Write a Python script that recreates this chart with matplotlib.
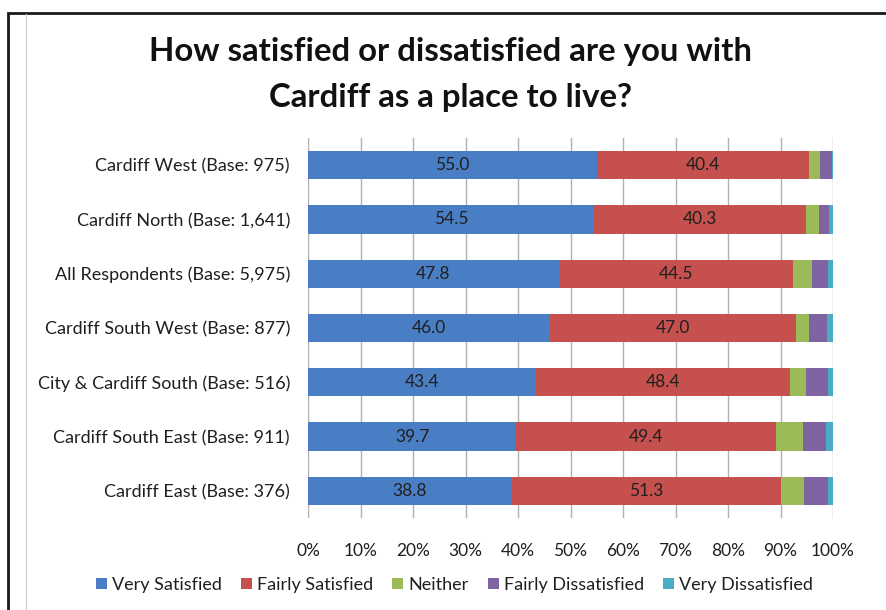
import matplotlib
matplotlib.use("Agg")
import matplotlib.pyplot as plt
from matplotlib.patches import Rectangle
from matplotlib.lines import Line2D

plt.rcParams['font.family'] = ['Lato', 'DejaVu Sans']

categories = [
    "Cardiff West (Base: 975)",
    "Cardiff North (Base: 1,641)",
    "All Respondents (Base: 5,975)",
    "Cardiff South West (Base: 877)",
    "City & Cardiff South (Base: 516)",
    "Cardiff South East (Base: 911)",
    "Cardiff East (Base: 376)",
]
series_names = ["Very Satisfied", "Fairly Satisfied", "Neither",
                "Fairly Dissatisfied", "Very Dissatisfied"]
very_satisfied = [55.0, 54.5, 47.8, 46.0, 43.4, 39.7, 38.8]
fairly_satisfied = [40.4, 40.3, 44.5, 47.0, 48.4, 49.4, 51.3]
neither = [2.2, 2.5, 3.7, 2.4, 3.0, 5.1, 4.3]
fairly_dissatisfied = [2.2, 1.9, 3.1, 3.5, 4.3, 4.5, 4.6]
very_dissatisfied = [0.2, 0.8, 0.9, 1.1, 0.9, 1.3, 1.0]
x_ticks = [0, 10, 20, 30, 40, 50, 60, 70, 80, 90, 100]
x_tick_labels = [f"{t}%" for t in x_ticks]

colors = ["#4A7EC4", "#C5504D", "#9BBB59", "#8064A2", "#4BACC6"]
series = [very_satisfied, fairly_satisfied, neither,
          fairly_dissatisfied, very_dissatisfied]

fig = plt.figure(figsize=(8.86, 6.10), dpi=100)
fig.patch.set_facecolor("white")

# outer frame
fig.patches.append(Rectangle((8 / 886, -0.05), 1.2, 1 - 13 / 610 + 0.05,
                             transform=fig.transFigure, fill=False,
                             edgecolor="#1a1a1a", linewidth=2.0))
fig.lines.append(Line2D([26 / 886, 26 / 886], [0, 1 - 14 / 610],
                        transform=fig.transFigure, color="#cccccc",
                        linewidth=0.8))

ax = fig.add_axes([308 / 886, 1 - 518 / 610, 525 / 886, 380 / 610])
ypos = list(range(len(categories)))
left = [0.0] * len(categories)
for name, vals, col in zip(series_names, series, colors):
    bars = ax.barh(ypos, vals, left=left, height=0.52, color=col,
                   label=name, zorder=3)
    if name in ("Very Satisfied", "Fairly Satisfied"):
        for b, v in zip(bars, vals):
            ax.text(b.get_x() + b.get_width() / 2, b.get_y() + b.get_height() / 2,
                    f"{v:.1f}", ha="center", va="center", fontsize=12.5,
                    color="#1f1f1f", zorder=4)
    left = [l + v for l, v in zip(left, vals)]

ax.set_xlim(0, 100)
ax.set_ylim(len(categories) - 0.5, -0.5)
ax.set_xticks(x_ticks)
ax.set_xticklabels(x_tick_labels, fontsize=12.5, color="#1f1f1f")
ax.set_yticks(ypos)
ax.set_yticklabels(categories, fontsize=13, color="#1f1f1f")
ax.tick_params(axis="x", length=0, pad=18)
ax.tick_params(axis="y", length=0, pad=13)
ax.grid(axis="x", color="#b0b0b0", linewidth=1.0, zorder=0)
for s in ax.spines.values():
    s.set_visible(False)

fig.text(0.509, 1 - 51 / 610, "How satisfied or dissatisfied are you with",
         ha="center", va="center", fontsize=23.7, fontweight="bold", color="#111111")
fig.text(0.509, 1 - 98 / 610, "Cardiff as a place to live?",
         ha="center", va="center", fontsize=23.7, fontweight="bold", color="#111111")

handles, labels = ax.get_legend_handles_labels()
fig.legend(handles, labels, loc="center", bbox_to_anchor=(0.513, 1 - 585 / 610),
           ncol=5, frameon=False, fontsize=13, handlelength=0.6,
           handleheight=0.6, handletextpad=0.3, columnspacing=1.05,
           labelcolor="#1f1f1f")

fig.savefig("out.png", dpi=100, facecolor="white")
